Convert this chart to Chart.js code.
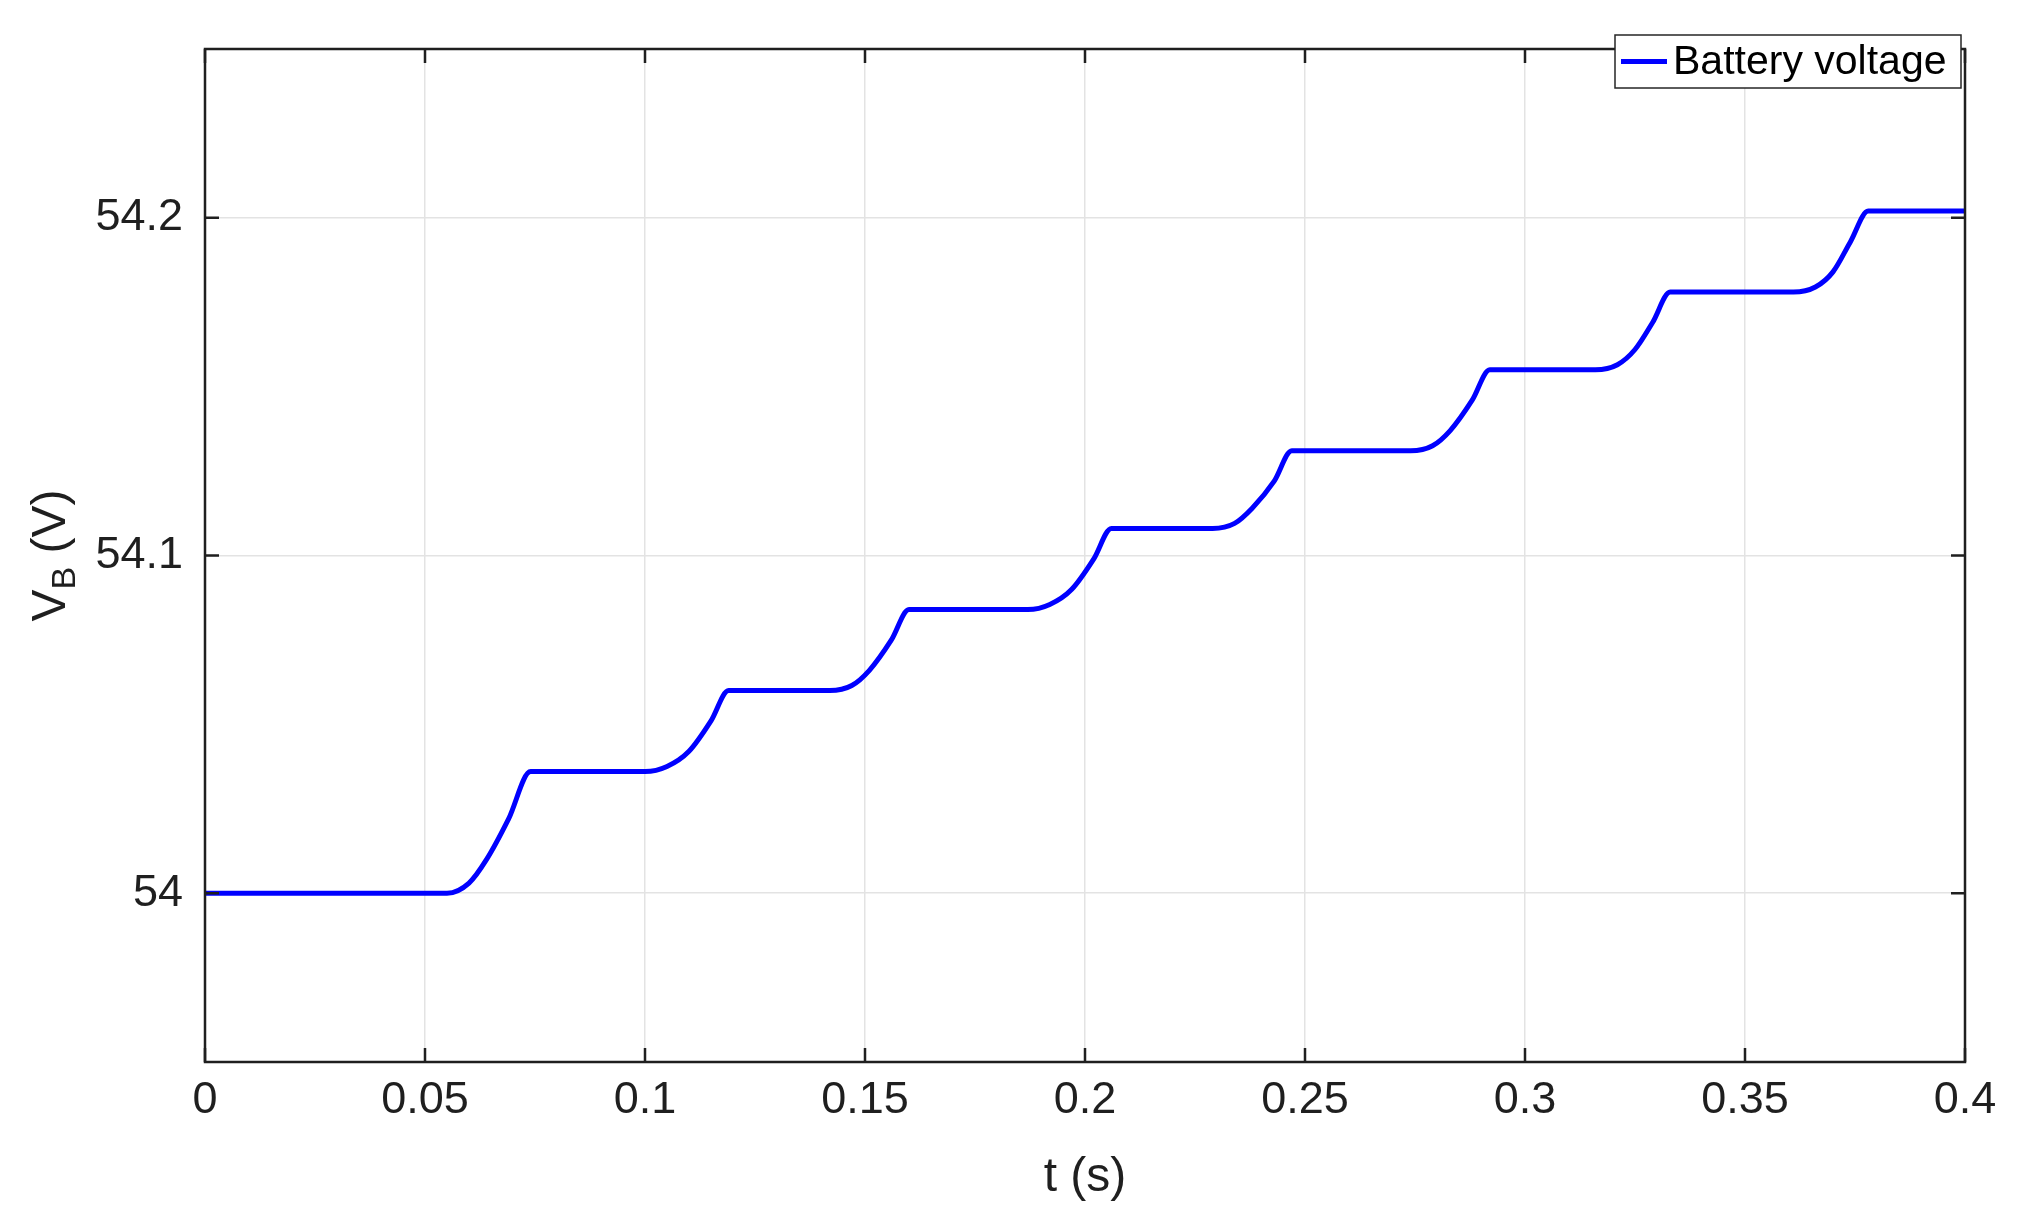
<!DOCTYPE html>
<html>
<head>
<meta charset="utf-8">
<script src="https://cdn.jsdelivr.net/npm/chart.js@4/dist/chart.umd.min.js"></script>
<style>
  html, body { margin: 0; padding: 0; background: #fff; }
  #wrap { width: 2022px; height: 1214px; }
</style>
</head>
<body>
<div id="wrap"><canvas id="vbChart" width="2022" height="1214"></canvas></div>
<script>
// Battery voltage step response
const timeS = [
    0, 0.055, 0.060, 0.064, 0.069, 0.074,
    0.100, 0.105, 0.110, 0.115, 0.119,
    0.142, 0.147, 0.151, 0.156, 0.160,
    0.187, 0.192, 0.197, 0.202, 0.206,
    0.229, 0.234, 0.238, 0.243, 0.247,
    0.274, 0.279, 0.283, 0.288, 0.292,
    0.316, 0.321, 0.325, 0.329, 0.333,
    0.361, 0.366, 0.370, 0.374, 0.378,
    0.400
];
const batteryVoltage = [
    54.000, 54.000, 54.003, 54.010, 54.022, 54.036,
    54.036, 54.0375, 54.042, 54.051, 54.060,
    54.060, 54.0615, 54.066, 54.075, 54.084,
    54.084, 54.0855, 54.090, 54.099, 54.108,
    54.108, 54.1095, 54.114, 54.122, 54.131,
    54.131, 54.1325, 54.137, 54.146, 54.155,
    54.155, 54.1565, 54.161, 54.169, 54.178,
    54.178, 54.1795, 54.184, 54.193, 54.202,
    54.202
];
const xTicks = [0, 0.05, 0.1, 0.15, 0.2, 0.25, 0.3, 0.35, 0.4];
const yTicks = [54, 54.1, 54.2];

const FONT = '"Liberation Sans", Arial, sans-serif';
const INK = '#1f1f1f';

// marcos, ticks hacia dentro, títulos y leyenda al estilo MATLAB
const matlabAxes = {
    id: 'matlabAxes',
    afterDraw(chart) {
        const { ctx, chartArea: a, scales } = chart;
        ctx.save();
        ctx.strokeStyle = INK;
        ctx.lineWidth = 2.5;
        ctx.strokeRect(a.left, a.top, a.right - a.left, a.bottom - a.top);
        const t = 14;
        ctx.beginPath();
        xTicks.forEach(v => {
            const x = scales.x.getPixelForValue(v);
            ctx.moveTo(x, a.bottom); ctx.lineTo(x, a.bottom - t);
            ctx.moveTo(x, a.top); ctx.lineTo(x, a.top + t);
        });
        yTicks.forEach(v => {
            const y = scales.y.getPixelForValue(v);
            ctx.moveTo(a.left, y); ctx.lineTo(a.left + t, y);
            ctx.moveTo(a.right, y); ctx.lineTo(a.right - t, y);
        });
        ctx.stroke();

        // título eje x
        ctx.fillStyle = INK;
        ctx.font = '48px ' + FONT;
        ctx.textAlign = 'center';
        ctx.textBaseline = 'middle';
        ctx.fillText('t (s)', (a.left + a.right) / 2, 1178);

        // título eje y con subíndice
        ctx.save();
        ctx.translate(52, (a.top + a.bottom) / 2);
        ctx.rotate(-Math.PI / 2);
        ctx.textAlign = 'left';
        ctx.textBaseline = 'middle';
        const big = '48px ' + FONT, small = '34px ' + FONT;
        ctx.font = big; const wV = ctx.measureText('V').width;
        ctx.font = small; const wB = ctx.measureText('B').width;
        ctx.font = big; const wR = ctx.measureText(' (V)').width;
        let x0 = -(wV + wB + wR) / 2;
        ctx.font = big; ctx.fillText('V', x0, 0);
        ctx.font = small; ctx.fillText('B', x0 + wV, 14);
        ctx.font = big; ctx.fillText(' (V)', x0 + wV + wB, 0);
        ctx.restore();

        // leyenda
        const bx = 1615, by = 35, bw = 346, bh = 53;
        ctx.fillStyle = '#fff';
        ctx.fillRect(bx, by, bw, bh);
        ctx.strokeStyle = '#262626';
        ctx.lineWidth = 1.5;
        ctx.strokeRect(bx, by, bw, bh);
        ctx.strokeStyle = '#0000ff';
        ctx.lineWidth = 5;
        ctx.beginPath();
        ctx.moveTo(bx + 6, by + bh / 2); ctx.lineTo(bx + 52, by + bh / 2);
        ctx.stroke();
        ctx.fillStyle = '#000';
        ctx.font = '41px ' + FONT;
        ctx.textAlign = 'left';
        ctx.fillText('Battery voltage', bx + 58, by + bh / 2 + 1);
        ctx.restore();
    }
};

new Chart(document.getElementById('vbChart'), {
    type: 'line',
    data: {
        labels: timeS,
        datasets: [{
            label: 'Battery voltage',
            data: timeS.map((t, i) => ({ x: t, y: batteryVoltage[i] })),
            borderColor: '#0000ff',
            borderWidth: 5,
            pointRadius: 0,
            cubicInterpolationMode: 'monotone',
            fill: false
        }]
    },
    options: {
        responsive: false,
        animation: false,
        layout: { padding: { top: -13, right: 57, left: 0, bottom: 0 } },
        plugins: { legend: { display: false }, tooltip: { enabled: false } },
        scales: {
            x: {
                type: 'linear',
                min: 0, max: 0.4,
                afterBuildTicks: s => { s.ticks = xTicks.map(v => ({ value: v })); },
                afterFit: s => { s.height = 152; },
                ticks: {
                    color: INK,
                    font: { family: FONT, size: 45 },
                    padding: 12,
                    maxRotation: 0,
                    callback: v => String(v)
                },
                grid: { color: '#e3e3e3', lineWidth: 1.5, tickLength: 0 },
                border: { display: false }
            },
            y: {
                min: 53.95, max: 54.25,
                afterBuildTicks: s => { s.ticks = yTicks.map(v => ({ value: v })); },
                afterFit: s => { s.width = 205; },
                ticks: {
                    color: INK,
                    font: { family: FONT, size: 45 },
                    padding: 22,
                    callback: v => String(+v.toFixed(2))
                },
                grid: { color: '#e3e3e3', lineWidth: 1.5, tickLength: 0 },
                border: { display: false }
            }
        }
    },
    plugins: [matlabAxes]
});
</script>
</body>
</html>
